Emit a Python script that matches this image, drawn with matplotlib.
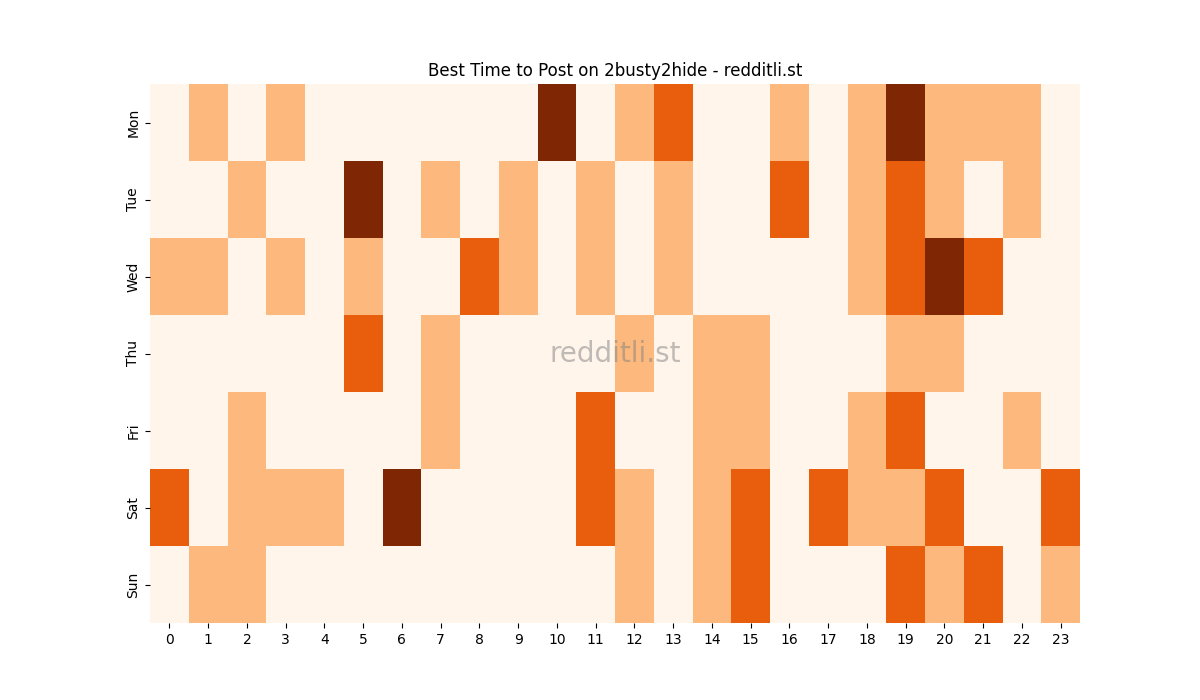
import matplotlib
matplotlib.use("Agg")
import matplotlib.pyplot as plt
import seaborn as sns
import numpy as np

days = ["Mon", "Tue", "Wed", "Thu", "Fri", "Sat", "Sun"]
hours = list(range(24))
mon = [0,1,0,1,0,0,0,0,0,0,3,0,1,2,0,0,1,0,1,3,1,1,1,0]
tue = [0,0,1,0,0,3,0,1,0,1,0,1,0,1,0,0,2,0,1,2,1,0,1,0]
wed = [1,1,0,1,0,1,0,0,2,1,0,1,0,1,0,0,0,0,1,2,3,2,0,0]
thu = [0,0,0,0,0,2,0,1,0,0,0,0,1,0,1,1,0,0,0,1,1,0,0,0]
fri = [0,0,1,0,0,0,0,1,0,0,0,2,0,0,1,1,0,0,1,2,0,0,1,0]
sat = [2,0,1,1,1,0,3,0,0,0,0,2,1,0,1,2,0,2,1,1,2,0,0,2]
sun = [0,1,1,0,0,0,0,0,0,0,0,0,1,0,1,2,0,0,0,2,1,2,0,1]

data = np.array([mon, tue, wed, thu, fri, sat, sun])

fig, ax = plt.subplots(figsize=(12, 7), dpi=100)
sns.heatmap(data, cmap="Oranges", vmin=0, vmax=3, cbar=False,
            xticklabels=hours, yticklabels=days, ax=ax)
ax.set_title("Best Time to Post on 2busty2hide - redditli.st")
ax.text(0.5, 0.5, "redditli.st", transform=ax.transAxes, ha="center", va="center",
        fontsize=20, color="gray", alpha=0.5)
fig.savefig("out.png")
